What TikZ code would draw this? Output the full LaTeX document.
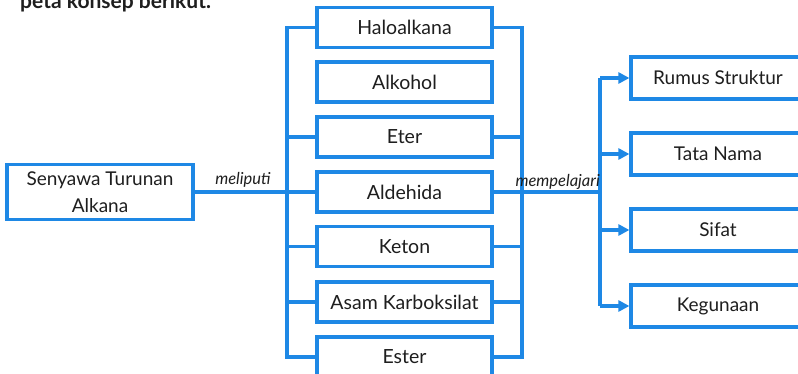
\documentclass[tikz,border=0pt]{standalone}
\usepackage{fontspec}
\setmainfont{Lato}
\usetikzlibrary{arrows.meta}
\definecolor{blu}{RGB}{30,136,229}
\definecolor{ink}{RGB}{30,30,30}
\begin{document}
\begin{tikzpicture}[x=1pt,y=-1pt,
  box/.style={draw=blu,line width=3.2pt,fill=white,inner sep=0pt,minimum width=175pt,minimum height=40pt,font=\fontsize{19.5}{22}\selectfont,text=ink},
  rbox/.style={box,minimum width=174pt,minimum height=42pt,font=\fontsize{19}{22}\selectfont},
  lbox/.style={box,minimum width=186pt,minimum height=55pt,align=center,font=\fontsize{19}{27}\selectfont},
  link/.style={draw=blu,line width=3.2pt},
  arr/.style={link,-{Triangle[length=11pt,width=11pt]}},
  lbl/.style={font=\fontsize{16.5}{18}\selectfont\itshape,text=ink,inner sep=0pt},
  ttl/.style={font=\fontsize{21}{24}\selectfont\bfseries,text=ink,inner sep=0pt}]
\useasboundingbox (0,0) rectangle (798,374);
% title
\node[ttl,anchor=base west] (title) at (20,9) {peta konsep berikut.};
% left box
\node[lbox] (sen) at (100,192) {Senyawa Turunan\\Alkana};
% middle boxes
\node[box] (halo) at (404.5,27.5) {Haloalkana};
\node[box] (alk)  at (404.5,82) {Alkohol};
\node[box] (eter) at (404.5,137) {Eter};
\node[box] (ald)  at (404.5,192) {Aldehida};
\node[box] (ket)  at (404.5,246.5) {Keton};
\node[box] (asam) at (404.5,302) {Asam Karboksilat};
\node[box] (est)  at (404.5,357) {Ester};
% right boxes
\node[rbox] (rum) at (718,78) {Rumus Struktur};
\node[rbox] (tata) at (718,154) {Tata Nama};
\node[rbox] (sif) at (718,230) {Sifat};
\node[rbox] (keg) at (718,306) {Kegunaan};
% buses
\coordinate (lb) at (287,357);
\coordinate (rb) at (522,357);
\coordinate (mb) at (600,306);
\draw[link] (halo.west) -| (lb) -- (est.west);
\draw[link] (eter.west) -- (eter.west -| lb);
\draw[link] (sen.east) -- (ald.west);
\draw[link] (ket.west) -- (ket.west -| lb);
\draw[link] (asam.west) -- (asam.west -| lb);
\draw[link] (halo.east) -| (rb) -- (est.east);
\draw[link] (eter.east) -- (eter.east -| rb);
\draw[link] (ket.east) -- (ket.east -| rb);
\draw[link] (asam.east) -- (asam.east -| rb);
\draw[link] (ald.east) -- (ald.east -| mb);
\draw[link] (rum.west -| mb) -- (mb);
\draw[arr] (rum.west -| mb) -- (rum.west);
\draw[arr] (tata.west -| mb) -- (tata.west);
\draw[arr] (sif.west -| mb) -- (sif.west);
\draw[arr] (mb) -- (keg.west);
% labels
\node[lbl,anchor=base] (mel) at (243,185) {meliputi};
\node[lbl,anchor=base east] (mem) at (600,187) {mempelajari};
\end{tikzpicture}
\end{document}
